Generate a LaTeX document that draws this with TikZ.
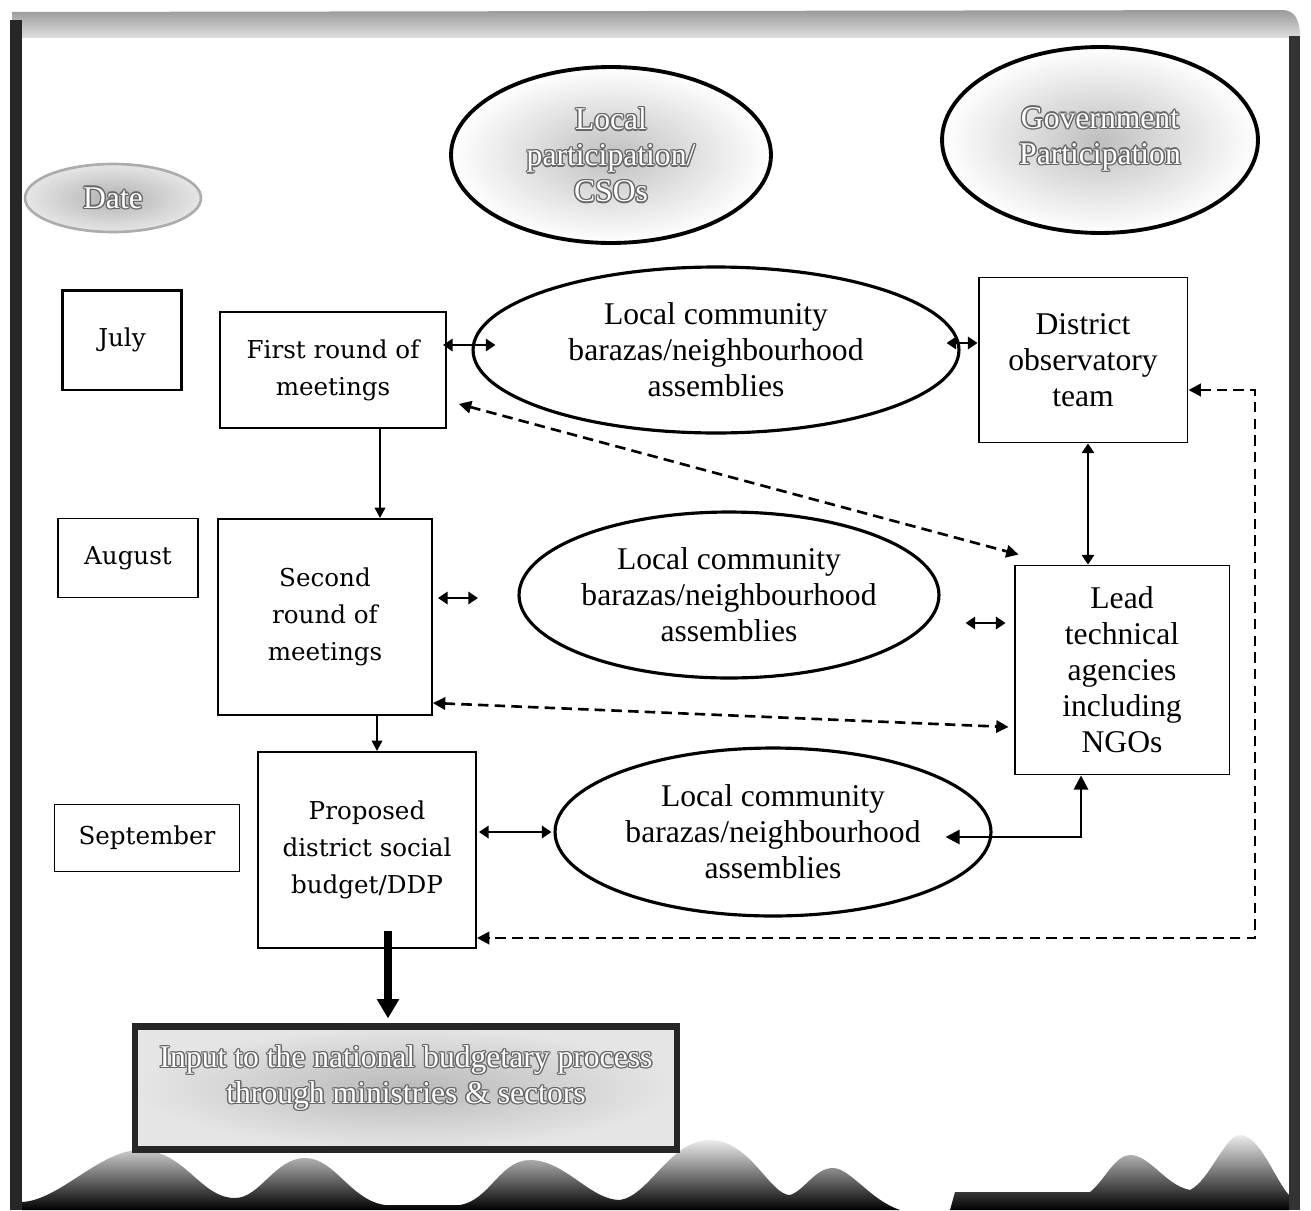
\documentclass[tikz,border=0pt]{standalone}
\usepackage{fontspec}
\setmainfont{Liberation Serif}
\newfontfamily\cent{DejaVu Serif}
\usetikzlibrary{shapes.geometric,arrows.meta,calc}
\newcommand\glowtext[4]{%
  \foreach \dx/\dy in {-1.4/0,1.4/0,0/-1.4,0/1.4,-1/-1,1/1,-1/1,1/-1}{%
    \node[#3,text=black!60] at ($#2+(\dx,\dy)$) {#4};}
  \node[#3,text=white] (#1) at #2 {#4};}
\begin{document}
\begin{tikzpicture}[x=0.02cm,y=-0.02cm,
  box/.style={draw,rectangle,line width=1.1pt,inner sep=2pt,align=center,fill=white},
  ctext/.style={font=\cent\fontsize{14}{21}\selectfont},
  ttext/.style={font=\fontsize{18}{20.5}\selectfont},
  ellnode/.style={draw,ellipse,line width=1.8pt,inner sep=0pt,align=center,fill=white},
  gtext/.style={align=center,inner sep=0pt,font=\fontsize{18}{20.5}\selectfont},
  onearrow/.style={-{Triangle[length=6pt,width=6pt]},line width=1.3pt},
  dbl/.style={{Triangle[length=5.5pt,width=7pt]}-{Triangle[length=5.5pt,width=7pt]},line width=1.4pt},
  dsh/.style={{Triangle[length=7pt,width=7pt]}-{Triangle[length=7pt,width=7pt]},line width=1.5pt,dash pattern=on 6pt off 3.5pt}
]
\useasboundingbox (0,0) rectangle (1311,1210);
\fill[white] (0,0) rectangle (1311,1210);
% frame
\shade[top color=gray!80, bottom color=gray!25] (12,12) -- (1282,10) .. controls (1295,10) and (1300,20) .. (1300,38) -- (12,38) -- cycle;
\fill[black!85] (10,20) rectangle (22,1210);
\fill[black!80] (1289,36) rectangle (1300,1210);
\shade[top color=gray!15, bottom color=black] (22,1210) -- (22,1202) .. controls (60,1200) and (100,1150) .. (140,1150) .. controls (185,1150) and (200,1198) .. (235,1198) .. controls (260,1198) and (275,1158) .. (305,1158) .. controls (335,1158) and (350,1200) .. (385,1205) -- (460,1205) .. controls (490,1200) and (500,1160) .. (530,1160) .. controls (565,1160) and (590,1200) .. (620,1200) .. controls (650,1195) and (670,1140) .. (710,1140) .. controls (750,1140) and (770,1195) .. (790,1195) .. controls (805,1190) and (815,1168) .. (833,1168) .. controls (850,1168) and (870,1200) .. (900,1210) -- cycle;
\shade[top color=gray!15, bottom color=black] (950,1210) -- (955,1192) -- (1090,1192) .. controls (1105,1180) and (1115,1155) .. (1130,1155) .. controls (1150,1155) and (1165,1185) .. (1190,1190) .. controls (1210,1180) and (1225,1135) .. (1240,1135) .. controls (1260,1135) and (1275,1180) .. (1289,1195) -- (1289,1210) -- cycle;
% header ellipses
\node[ellipse,draw=gray!65,line width=1.5pt,inner color=gray!60,outer color=gray!20,minimum width=3.52cm,minimum height=1.36cm] (date) at (113,198) {};
\glowtext{datet}{(113,198)}{gtext}{Date}
\node[ellipse,draw,line width=2.2pt,inner color=gray!50,outer color=white,minimum width=6.4cm,minimum height=3.52cm] (localp) at (611,155) {};
\glowtext{localpt}{(611,155)}{gtext}{Local\\participation/\\CSOs}
\node[ellipse,draw,line width=2.2pt,inner color=gray!50,outer color=white,minimum width=6.32cm,minimum height=3.72cm] (govp) at (1100,140) {};
\glowtext{govpt}{(1100,139)}{gtext}{Government\\Participation}
% dates
\node[box,ctext,line width=1.7pt,minimum width=2.4cm,minimum height=2cm] (july) at (122,340) {July};
\node[box,ctext,minimum width=2.8cm,minimum height=1.58cm] (august) at (128,558) {August};
\node[box,ctext,minimum width=3.7cm,minimum height=1.34cm] (september) at (147,838) {September};
% main boxes
\node[box,ctext,minimum width=4.52cm,minimum height=2.32cm] (first) at (333,370) {First round of\\meetings};
\node[box,ctext,minimum width=4.28cm,minimum height=3.92cm] (second) at (325,617) {Second\\round of\\meetings};
\node[box,ctext,minimum width=4.36cm,minimum height=3.92cm] (proposed) at (367,850) {Proposed\\district social\\budget/DDP};
\node[box,ttext,minimum width=4.18cm,minimum height=3.3cm] (district) at (1083,360) {District\\observatory\\team};
\node[box,ttext,minimum width=4.3cm,minimum height=4.18cm] (lead) at (1122,670) {Lead\\technical\\agencies\\including\\NGOs};
\node[ellnode,ttext,minimum width=9.72cm,minimum height=3.32cm] (ell1) at (716,350) {Local community\\barazas/neighbourhood\\assemblies};
\node[ellnode,ttext,minimum width=8.4cm,minimum height=3.32cm] (ell2) at (729,595) {Local community\\barazas/neighbourhood\\assemblies};
\node[ellnode,ttext,minimum width=8.72cm,minimum height=3.36cm] (ell3) at (773,832) {Local community\\barazas/neighbourhood\\assemblies};
% input box
\node[rectangle,draw=black!85,line width=3.5pt,inner color=gray!55,outer color=gray!20,minimum width=10.84cm,minimum height=2.46cm] (input) at (406,1088) {};
\glowtext{inputt}{(406,1078)}{gtext}{Input to the national budgetary process\\through ministries \& sectors}
% connectors
\draw[dbl] ($(first.east)+(-4,-25)$) -- ($(ell1.west)+(24,-5)$);
\draw[dbl] ($(ell1.east)+(-14,-7)$) -- ($(district.west)+(0,-17)$);
\draw[dsh] ($(first.south east)+(12,-25)$) -- ($(lead.north west)+(5,-10)$);
\draw[onearrow] ($(first.south)+(47,0)$) -- ($(second.north)+(55,0)$);
\draw[dbl] ($(second.east)+(5,-19)$) -- ($(second.east)+(45,-19)$);
\draw[dbl] ($(lead.west)+(-48,-47)$) -- ($(lead.west)+(-8,-47)$);
\draw[dsh] ($(second.east)+(0,86)$) -- ($(lead.west)+(-5,57)$);
\draw[onearrow] ($(second.south)+(52,0)$) -- ($(proposed.north)+(10,0)$);
\draw[dbl] ($(proposed.east)+(2,-18)$) -- ($(ell3.west)+(-2,0)$);
\draw[{Triangle[length=8pt,width=8pt]}-{Triangle[length=8pt,width=8pt]},line width=1.5pt] ($(ell3.east)+(-47,5)$) -| ($(lead.south)+(-41,0)$);
\draw[dbl,line width=1.3pt] ($(district.south)+(5,0)$) -- ($(lead.north)+(-34,0)$);
\coordinate (rt) at (1255,390);
\draw[dsh] ($(district.east)+(0,30)$) -- (rt) |- ($(proposed.east)+(0,88)$);
\draw[-{Triangle[length=11pt,width=12pt]},line width=4.5pt] ($(proposed.south)+(21,-18)$) -- ($(input.north)+(-18,-5)$);
\end{tikzpicture}
\end{document}
